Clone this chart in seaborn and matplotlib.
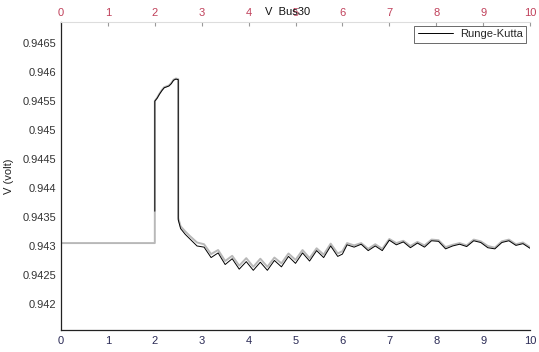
import matplotlib
matplotlib.use("Agg")
import matplotlib.pyplot as plt
import seaborn as sns
import pandas as pd

# ---------------- data ----------------
t_rk = [2.0, 2.0, 2.05, 2.1, 2.15, 2.2, 2.3, 2.35, 2.4, 2.45, 2.5, 2.5,
        2.55, 2.65, 2.75, 2.9, 3.05, 3.2, 3.35, 3.5, 3.65, 3.8, 3.95, 4.1,
        4.25, 4.4, 4.55, 4.7, 4.85, 5.0, 5.15, 5.3, 5.45, 5.6, 5.75, 5.9,
        6.0, 6.1, 6.25, 6.4, 6.55, 6.7, 6.85, 7.0, 7.15, 7.3, 7.45, 7.6,
        7.75, 7.9, 8.05, 8.2, 8.35, 8.5, 8.65, 8.8, 8.95, 9.1, 9.25, 9.4,
        9.55, 9.7, 9.85, 10.0]
v_rk = [0.94360, 0.94550, 0.94555, 0.94562, 0.94568, 0.94573, 0.94576,
        0.94580, 0.94586, 0.94588, 0.94587, 0.94345, 0.94330, 0.94320,
        0.94312, 0.94300, 0.94298, 0.94280, 0.94288, 0.94268, 0.94278,
        0.94260, 0.94273, 0.94258, 0.94272, 0.94258, 0.94275, 0.94264,
        0.94282, 0.94270, 0.94288, 0.94274, 0.94292, 0.94280, 0.94300,
        0.94282, 0.94286, 0.94302, 0.94298, 0.94303, 0.94292, 0.94300,
        0.94292, 0.94310, 0.94302, 0.94307, 0.94297, 0.94305, 0.94298,
        0.94309, 0.94308, 0.94295, 0.94300, 0.94303, 0.94299, 0.94309,
        0.94306, 0.94297, 0.94295, 0.94306, 0.94309, 0.94301, 0.94304,
        0.94296]

t_ref = [0.0, 2.0, 2.0, 2.05, 2.1, 2.15, 2.2, 2.3, 2.35, 2.4, 2.45, 2.5,
         2.5, 2.55, 2.65, 2.75, 2.9, 3.05, 3.2, 3.35, 3.5, 3.65, 3.8, 3.95,
         4.1, 4.25, 4.4, 4.55, 4.7, 4.85, 5.0, 5.15, 5.3, 5.45, 5.6, 5.75,
         5.9, 6.0, 6.1, 6.25, 6.4, 6.55, 6.7, 6.85, 7.0, 7.15, 7.3, 7.45,
         7.6, 7.75, 7.9, 8.05, 8.2, 8.35, 8.5, 8.65, 8.8, 8.95, 9.1, 9.25,
         9.4, 9.55, 9.7, 9.85, 10.0]
v_ref = [0.94305, 0.94305, 0.94550, 0.94556, 0.94563, 0.94569, 0.94574,
         0.94577, 0.94581, 0.94587, 0.94589, 0.94588, 0.94348, 0.94334,
         0.94325, 0.94317, 0.94306, 0.94303, 0.94286, 0.94293, 0.94274,
         0.94283, 0.94266, 0.94279, 0.94264, 0.94278, 0.94264, 0.94280,
         0.94270, 0.94287, 0.94276, 0.94293, 0.94279, 0.94296, 0.94285,
         0.94304, 0.94287, 0.94291, 0.94305, 0.94301, 0.94305, 0.94295,
         0.94303, 0.94295, 0.94312, 0.94305, 0.94309, 0.94300, 0.94307,
         0.94301, 0.94311, 0.94310, 0.94298, 0.94302, 0.94305, 0.94301,
         0.94311, 0.94308, 0.94300, 0.94297, 0.94308, 0.94311, 0.94303,
         0.94306, 0.94298]

x_ticks = list(range(0, 11))
y_ticks = [0.942, 0.9425, 0.943, 0.9435, 0.944, 0.9445, 0.945, 0.9455,
           0.946, 0.9465]
y_labels = ["0.942", "0.9425", "0.943", "0.9435", "0.944", "0.9445",
            "0.945", "0.9455", "0.946", "0.9465"]

# ---------------- plot ----------------
sns.set_style("white")
plt.rcParams["font.family"] = ["Liberation Sans", "DejaVu Sans"]

fig = plt.figure(figsize=(5.39, 3.52), dpi=100)
ax = fig.add_axes([0.1132, 0.0625, 0.8701, 0.875])

df_ref = pd.DataFrame({"t": t_ref, "v": v_ref})
df_rk = pd.DataFrame({"t": t_rk, "v": v_rk})
# estimator=None so the vertical steps (repeated t) are kept as drawn
sns.lineplot(data=df_ref, x="t", y="v", sort=False, estimator=None,
             color="#b8b8b8", linewidth=1.4, ax=ax, legend=False)
sns.lineplot(data=df_rk, x="t", y="v", sort=False, estimator=None,
             color="black", linewidth=0.7, ax=ax, label="Runge-Kutta")

ax.set_xlim(0, 10)
ax.set_ylim(0.94155, 0.946865)
ax.set_xticks(x_ticks)
ax.set_yticks(y_ticks)
ax.set_yticklabels(y_labels)
ax.set_xlabel("")
ax.set_ylabel("V (volt)", fontsize=8, color="#222222", labelpad=6)
ax.tick_params(axis="both", direction="in", length=3, labelsize=8,
               colors="#333333")
ax.tick_params(axis="x", labelcolor="#2a2a55", pad=4)

for s in ["left", "bottom"]:
    ax.spines[s].set_color("#222222")
    ax.spines[s].set_linewidth(0.9)
ax.spines["right"].set_visible(False)
ax.spines["top"].set_color("#dddddd")
ax.spines["top"].set_linewidth(0.8)

top = ax.secondary_xaxis("top")
top.set_xticks(x_ticks)
top.tick_params(direction="in", length=3, labelsize=8, colors="#999999",
                labelcolor="#c0405a", pad=3)
top.spines["top"].set_visible(False)

fig.text(0.533, 0.966, "V  Bus30", fontsize=8, color="#111111",
         ha="center", va="center")

leg = ax.legend(loc="upper right", fontsize=8, frameon=True, fancybox=False,
                borderpad=0.3, handlelength=3.2, handletextpad=0.6,
                borderaxespad=0.35)
leg.get_frame().set_edgecolor("#444444")
leg.get_frame().set_linewidth(0.7)

fig.savefig("out.png", dpi=100)
